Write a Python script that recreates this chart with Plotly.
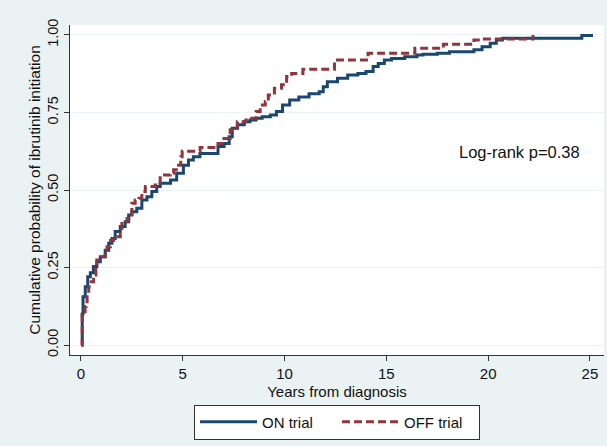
import plotly.graph_objects as go

# ON trial (blue) cumulative probability step points
on_t = [0, 0.06, 0.1, 0.21, 0.33, 0.46, 0.61, 0.78, 0.95, 1.19, 1.36, 1.52, 1.68, 1.93,
        2.17, 2.34, 2.5, 2.74, 2.99, 3.24, 3.48, 3.72, 3.89, 4.4, 4.7, 5.03, 5.28, 5.52,
        5.84, 6.73, 7.03, 7.28, 7.43, 7.68, 8.02, 8.3, 8.6, 8.9, 9.3, 9.6, 9.9, 10.25,
        10.7, 11.2, 11.7, 11.9, 12.1, 12.6, 13.1, 13.6, 14.0, 14.35, 14.6, 14.9, 15.25,
        15.9, 16.5, 16.8, 17.5, 18.1, 19.3, 19.7, 20.1, 20.4, 20.7, 24.6, 25.15]
on_p = [0, 0.10, 0.156, 0.188, 0.22, 0.233, 0.253, 0.269, 0.285, 0.306, 0.328, 0.344, 0.366, 0.382,
        0.398, 0.419, 0.43, 0.441, 0.468, 0.478, 0.495, 0.511, 0.522, 0.532, 0.554, 0.58, 0.597, 0.607,
        0.618, 0.64, 0.65, 0.672, 0.699, 0.71, 0.72, 0.726, 0.731, 0.736, 0.742, 0.753, 0.774, 0.79,
        0.8, 0.81, 0.817, 0.833, 0.849, 0.86, 0.871, 0.876, 0.882, 0.898, 0.908, 0.919, 0.924,
        0.93, 0.935, 0.938, 0.941, 0.946, 0.952, 0.962, 0.973, 0.984, 0.989, 0.998, 0.998]

# OFF trial (red) cumulative probability step points
off_t = [0, 0.06, 0.2, 0.25, 0.3, 0.38, 0.5, 0.62, 0.73, 0.78, 0.95, 1.19, 1.28, 1.45, 1.6,
         1.93, 2.01, 2.26, 2.5, 2.66, 2.85, 2.99, 3.16, 3.64, 3.89, 4.38, 4.55, 4.79, 4.9,
         4.97, 5.85, 6.73, 6.93, 7.33, 7.68, 8.1, 8.3, 8.6, 8.8, 9.05, 9.2, 9.5, 9.85, 10.1,
         10.35, 10.9, 12.45, 14.1, 16.4, 17.8, 19.3, 19.6, 22.2]
off_p = [0, 0.097, 0.124, 0.134, 0.167, 0.188, 0.204, 0.226, 0.258, 0.274, 0.285, 0.296, 0.317, 0.337, 0.349,
         0.36, 0.398, 0.408, 0.457, 0.468, 0.473, 0.495, 0.511, 0.516, 0.548, 0.554, 0.565, 0.58, 0.607,
         0.625, 0.637, 0.65, 0.666, 0.694, 0.72, 0.726, 0.731, 0.753, 0.774, 0.785, 0.806, 0.828, 0.839, 0.866,
         0.876, 0.889, 0.919, 0.941, 0.957, 0.970, 0.984, 0.987, 1.0]

x_ticks = [0, 5, 10, 15, 20, 25]
y_ticks = [0, 0.25, 0.5, 0.75, 1.0]

NAVY = "#1a476f"
MAROON = "#90353b"
BG = "#eaf2f3"
FONT = "Liberation Sans, Arial, Helvetica, sans-serif"

fig = go.Figure()
fig.add_trace(go.Scatter(x=on_t, y=on_p, mode="lines", name="ON trial",
                         line=dict(color=NAVY, width=3, shape="hv")))
fig.add_trace(go.Scatter(x=off_t, y=off_p, mode="lines", name="OFF trial",
                         line=dict(color=MAROON, width=3, shape="hv", dash="8px,4px")))

fig.add_annotation(x=21.56, y=0.623, xref="x", yref="y", text="Log-rank p=0.38",
                   showarrow=False, font=dict(size=16.5, color="#111", family=FONT))

fig.update_layout(
    width=607, height=446,
    margin=dict(l=70, r=3, t=25, b=91, autoexpand=False),
    paper_bgcolor=BG, plot_bgcolor="white",
    font=dict(family=FONT, size=15, color="#111"),
    showlegend=True,
    legend=dict(orientation="h", x=0.5, xanchor="center", y=-0.15, yanchor="top",
                bgcolor="white", bordercolor="#333", borderwidth=1,
                font=dict(size=15), itemwidth=57, entrywidth=70, entrywidthmode="pixels",
                tracegroupgap=0),
)
fig.update_xaxes(range=[-0.54, 25.69], tickvals=x_ticks, ticks="outside", ticklen=5,
                 tickcolor="#333", showline=True, linecolor="#333", linewidth=1,
                 showgrid=False, zeroline=False, tickfont=dict(size=15),
                 title=dict(text="Years from diagnosis", font=dict(size=15), standoff=5))
fig.update_yaxes(range=[-0.032, 1.032], tickvals=y_ticks, tickformat=".2f", tickangle=-90,
                 ticks="outside", ticklen=5, tickcolor="#333", showline=True, linecolor="#333",
                 linewidth=1, showgrid=True, gridcolor=BG, gridwidth=1, zeroline=False,
                 tickfont=dict(size=14.5),
                 title=dict(text="Cumulative probability of ibrutinib initiation",
                            font=dict(size=15.5), standoff=0))

fig.write_html("out.html")
